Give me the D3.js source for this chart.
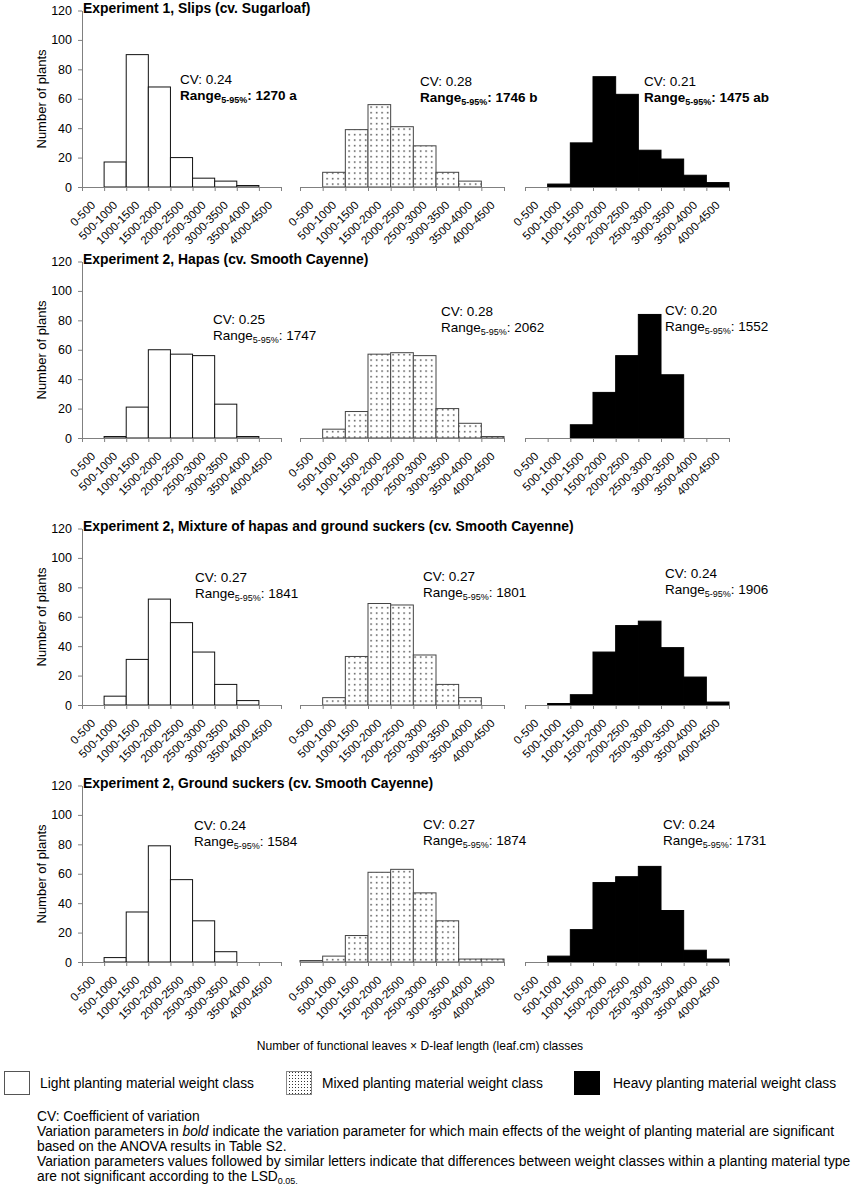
<!DOCTYPE html>
<html><head><meta charset="utf-8">
<script src="https://cdn.jsdelivr.net/npm/d3@7"></script>
<style>
body{margin:0;background:#fff}
svg{display:block}
text{font-family:"Liberation Sans",Arial,Helvetica,sans-serif;fill:#000}
</style>
</head><body>
<svg id="chart" width="852" height="1186"></svg>
<script>
// ---------------- DATA ----------------
const categories = ["0-500","500-1000","1000-1500","1500-2000","2000-2500","2500-3000","3000-3500","3500-4000","4000-4500"];
const yTickValues = [0,20,40,60,80,100,120];

const rowTitles = [
  "Experiment 1, Slips (cv. Sugarloaf)",
  "Experiment 2, Hapas (cv. Smooth Cayenne)",
  "Experiment 2, Mixture of hapas and ground suckers (cv. Smooth Cayenne)",
  "Experiment 2, Ground suckers (cv. Smooth Cayenne)"
];

// number of plants per class
const slipsLight   = [0,17,90,68,20,6,4,1,0];
const slipsMixed   = [0,10,39,56,41,28,10,4,0];
const slipsHeavy   = [0,2,30,75,63,25,19,8,3];

const hapasLight   = [0,1,21,60,57,56,23,1,0];
const hapasMixed   = [0,6,18,57,58,56,20,10,1];
const hapasHeavy   = [0,0,9,31,56,84,43,0,0];

const mixtureLight = [0,6,31,72,56,36,14,3,0];
const mixtureMixed = [0,5,33,69,68,34,14,5,0];
const mixtureHeavy = [0,1,7,36,54,57,39,19,2];

const groundLight  = [0,3,34,79,56,28,7,0,0];
const groundMixed  = [1,4,18,61,63,47,28,2,2];
const groundHeavy  = [0,4,22,54,58,65,35,8,2];

const cvValues = [
  ["0.24","0.28","0.21"],
  ["0.25","0.28","0.20"],
  ["0.27","0.27","0.24"],
  ["0.24","0.27","0.24"]
];
const rangeValues = [
  ["1270 a","1746 b","1475 ab"],
  ["1747","2062","1552"],
  ["1841","1801","1906"],
  ["1584","1874","1731"]
];
const rangeBold = [true,false,false,false];

const weightClasses = ["Light planting material weight class","Mixed planting material weight class","Heavy planting material weight class"];
const xAxisTitle = "Number of functional leaves \u00d7 D-leaf length (leaf.cm) classes";
const yAxisTitle = "Number of plants";

// ---------------- LAYOUT ----------------
const rows = [
  [slipsLight, slipsMixed, slipsHeavy],
  [hapasLight, hapasMixed, hapasHeavy],
  [mixtureLight, mixtureMixed, mixtureHeavy],
  [groundLight, groundMixed, groundHeavy]
];
const rowZero = [187, 438, 705, 962];
const plotH = 176.5;
const panelX = [[82,281],[300,504],[525,729]];
const annotPos = [
  [[180,84],[420,86],[644,86]],
  [[213,324],[441,316],[665,315]],
  [[195,582],[423,581],[665,578]],
  [[194,830],[423,829],[663,829]]
];

const svg = d3.select("#chart");
const defs = svg.append("defs");
const pat = defs.append("pattern").attr("id","dots").attr("patternUnits","userSpaceOnUse")
  .attr("width",5.5).attr("height",5.5);
pat.append("rect").attr("width",5.5).attr("height",5.5).attr("fill","#fff");
pat.append("rect").attr("x",2).attr("y",2).attr("width",1.3).attr("height",1.3).attr("fill","#111");
const pat2 = defs.append("pattern").attr("id","dotsFine").attr("patternUnits","userSpaceOnUse")
  .attr("width",3).attr("height",3);
pat2.append("rect").attr("width",3).attr("height",3).attr("fill","#fff");
pat2.append("rect").attr("x",1).attr("y",1).attr("width",1).attr("height",1).attr("fill","#333");

const styles = [
  {fill:"#fff", stroke:"#111"},
  {fill:"url(#dots)", stroke:"#444"},
  {fill:"#000", stroke:"#000"}
];
const axisColor = "#808080";

rows.forEach((series, r) => {
  const zero = rowZero[r];
  const y = d3.scaleLinear().domain([0,120]).range([zero, zero - plotH]);

  // title
  svg.append("text").attr("x",83).attr("y",zero-174)
    .attr("font-size",13.9).attr("font-weight","bold").text(rowTitles[r]);

  // y axis title
  svg.append("text").attr("transform",`translate(46,${zero-88}) rotate(-90)`)
    .attr("text-anchor","middle").attr("font-size",13).text(yAxisTitle);

  series.forEach((vals, p) => {
    const [x0,x1] = panelX[p];
    const x = d3.scaleBand().domain(categories).range([x0,x1]).padding(0);
    const xb = d3.scaleLinear().domain([0,categories.length]).range([x0,x1]);
    const g = svg.append("g");

    // bars
    g.selectAll("rect.bar").data(vals.map((v,i)=>({c:categories[i],v})).filter(d=>d.v>0))
      .enter().append("rect").attr("class","bar")
      .attr("x",d=>x(d.c)).attr("width",x.bandwidth())
      .attr("y",d=>y(d.v)).attr("height",d=>y(0)-y(d.v))
      .attr("fill",styles[p].fill).attr("stroke",styles[p].stroke).attr("stroke-width",1);

    // x axis (ticks at class boundaries)
    const xa = g.append("g").attr("transform",`translate(0,${zero})`)
      .call(d3.axisBottom(xb).tickValues(d3.range(categories.length+1)).tickFormat("").tickSizeInner(4).tickSizeOuter(0));
    xa.selectAll("path,line").attr("stroke",axisColor);

    // category labels
    g.selectAll("text.cat").data(categories).enter().append("text").attr("class","cat")
      .attr("transform",d=>`translate(${x(d)+x.bandwidth()/2+3},${zero+19}) rotate(-45)`)
      .attr("text-anchor","end").attr("font-size",11.6).text(d=>d);

    // y axis on first panel
    if (p === 0) {
      const ya = g.append("g").attr("transform",`translate(${x0},0)`)
        .call(d3.axisLeft(y).tickValues(yTickValues).tickSizeInner(4).tickSizeOuter(0).tickPadding(6));
      ya.selectAll("path,line").attr("stroke",axisColor);
      ya.selectAll("text").attr("font-size",12.5).attr("fill","#000")
        .attr("font-family",'"Liberation Sans",Arial,sans-serif');
    }

    // annotations
    const [ax, ay] = annotPos[r][p];
    svg.append("text").attr("x",ax).attr("y",ay).attr("font-size",13.5).text("CV: " + cvValues[r][p]);
    const rt = svg.append("text").attr("x",ax).attr("y",ay+16).attr("font-size",13.5)
      .attr("font-weight", rangeBold[r] ? "bold" : "normal");
    rt.append("tspan").text("Range");
    rt.append("tspan").attr("font-size",9).attr("dy",3).text("5-95%");
    rt.append("tspan").attr("dy",-3).text(": " + rangeValues[r][p]);
  });
});

// x axis title
svg.append("text").attr("x",420).attr("y",1050).attr("text-anchor","middle")
  .attr("font-size",12.1).text(xAxisTitle);

// legend
const legX = [4, 286, 574];
const legTextX = [40, 322, 613];
const legFill = ["#fff","url(#dotsFine)","#000"];
weightClasses.forEach((name,i)=>{
  svg.append("rect").attr("x",legX[i]+0.5).attr("y",1071.5).attr("width",25).attr("height",23)
    .attr("fill",legFill[i]).attr("stroke", i===0 ? "#555" : (i===1?"#888":"#000")).attr("stroke-width",1);
  svg.append("text").attr("x",legTextX[i]).attr("y",1088).attr("font-size",13.8).text(name);
});

// footnotes
const foot = svg.append("g").attr("font-size",13.8);
const fx = 37, fy0 = 1121, fdy = 15;
foot.append("text").attr("x",fx).attr("y",fy0).text("CV: Coefficient of variation");
const l2 = foot.append("text").attr("x",fx).attr("y",fy0+fdy);
l2.append("tspan").text("Variation parameters in ");
l2.append("tspan").attr("font-style","italic").text("bold");
l2.append("tspan").text(" indicate the variation parameter for which main effects of the weight of planting material are significant");
foot.append("text").attr("x",fx).attr("y",fy0+2*fdy).text("based on the ANOVA results in Table S2.");
foot.append("text").attr("x",fx).attr("y",fy0+3*fdy).text("Variation parameters values followed by similar letters indicate that differences between weight classes within a planting material type");
const l5 = foot.append("text").attr("x",fx).attr("y",fy0+4*fdy);
l5.append("tspan").text("are not significant according to the LSD");
l5.append("tspan").attr("font-size",9).attr("dy",2.5).text("0.05.");
</script>
</body></html>
